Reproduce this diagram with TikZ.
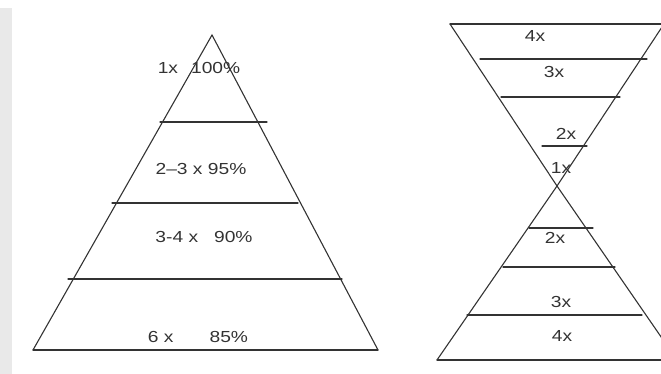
\documentclass[tikz,border=0pt]{standalone}
\usepackage{fontspec}
\setmainfont{Liberation Sans}
\newfontfamily\lblfont[Ligatures=TeX, FakeStretch=1.2]{Liberation Sans}
\usetikzlibrary{positioning, calc}
\definecolor{ink}{HTML}{333333}
\definecolor{scan}{HTML}{E9E9E9}

\begin{document}
\begin{tikzpicture}[x=1pt, y=-1pt, line width=1.1pt, line cap=round,
    lbl/.style={text=ink, inner sep=0pt, font=\lblfont\fontsize{16}{18}\selectfont}]
  \useasboundingbox (0,0) rectangle (661,374);
  \fill[scan] (0,8) rectangle (12,374);

  % pyramid on the left
  \coordinate (apex) at (212,35);
  \coordinate (baseL) at (33,350);
  \coordinate (baseR) at (378,350);
  \draw[ink] (baseL) -- (apex) -- (baseR);
  \draw[ink] (baseL) -- (baseR);
  \draw[ink] (160,122) -- (267,122);
  \draw[ink] (112,203) -- (298,203);
  \draw[ink] (68,279) -- (342,279);

  \node[lbl] (lvlA) at (199,68) {1x\hspace{13pt}100\%};
  \node[lbl] (lvlB) at (201,168.5) {2--3 x 95\%};
  \node[lbl] (lvlC) at (204,237) {3-4 x\hspace{16pt}90\%};
  \node[lbl] (lvlD) at (198,337) {6 x\hspace{36pt}85\%};

  % hourglass on the right
  \coordinate (waist) at (557,186);
  \coordinate (topL) at (450,24);
  \coordinate (topR) at (664,24);
  \coordinate (botL) at (437,360);
  \coordinate (botR) at (677,360);
  \draw[ink] (topL) -- (waist) -- (botR);
  \draw[ink] (topR) -- (waist) -- (botL);
  \draw[ink] (topL) -- (topR);
  \draw[ink] (botL) -- (botR);
  \draw[ink] (480,59) -- (647,59);
  \draw[ink] (501,97) -- (620,97);
  \draw[ink] (542,146) -- (587,146);
  \draw[ink] (529,228) -- (593,228);
  \draw[ink] (503,267) -- (615,267);
  \draw[ink] (467,315) -- (642,315);

  \node[lbl] (upD) at (535,36) {4x};
  \node[lbl] (upC) at (554,72) {3x};
  \node[lbl] (upB) at (566,134) {2x};
  \node[lbl] (upA) at (561,168) {1x};
  \node[lbl] (loB) at (555,238) {2x};
  \node[lbl] (loC) at (561,302) {3x};
  \node[lbl] (loD) at (562,336) {4x};
\end{tikzpicture}
\end{document}
